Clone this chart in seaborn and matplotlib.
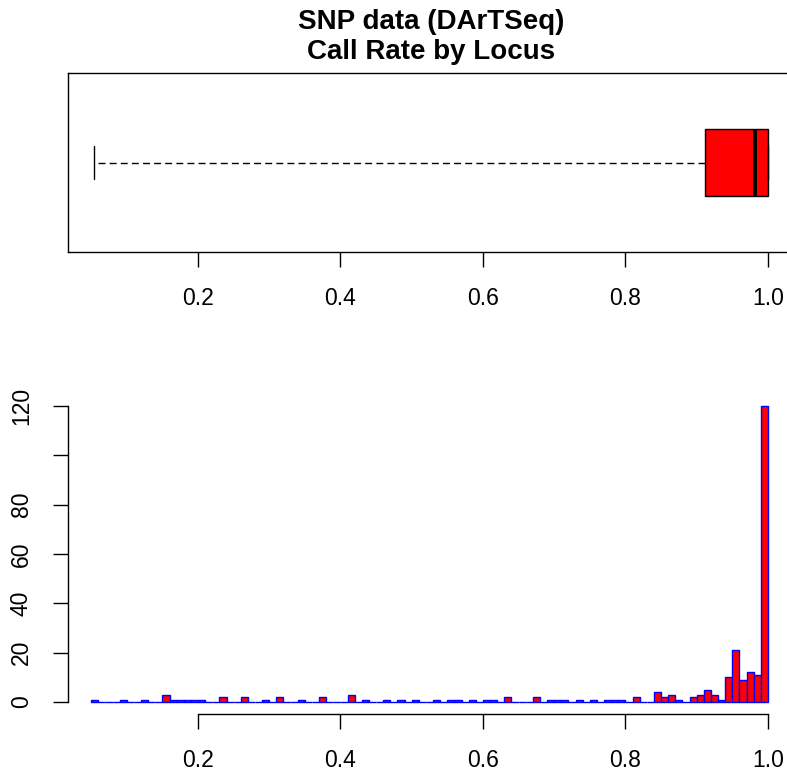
import matplotlib
matplotlib.use('Agg')
import numpy as np
import pandas as pd
import seaborn as sns
import matplotlib.pyplot as plt

# call rate histogram: counts per 0.01 bin, first bin starts at 0.05
bin_edges = np.round(np.linspace(0.05, 1.0, 96), 2)
bin_counts = [
    1, 0, 0, 0, 1, 0, 0, 1, 0, 0,      # 0.05 - 0.14
    3, 1, 1, 1, 1, 1, 0, 0, 2, 0,      # 0.15 - 0.24
    0, 2, 0, 0, 1, 0, 2, 0, 0, 1,      # 0.25 - 0.34
    0, 0, 2, 0, 0, 0, 3, 0, 1, 0,      # 0.35 - 0.44
    0, 1, 0, 1, 0, 1, 0, 0, 1, 0,      # 0.45 - 0.54
    1, 1, 0, 1, 0, 1, 1, 0, 2, 0,      # 0.55 - 0.64
    0, 0, 2, 0, 1, 1, 1, 0, 1, 0,      # 0.65 - 0.74
    1, 0, 1, 1, 1, 0, 2, 0, 0, 4,      # 0.75 - 0.84
    2, 3, 1, 0, 2, 3, 5, 3, 1, 10,     # 0.85 - 0.94
    21, 9, 12, 11, 120,                # 0.95 - 0.99
]

# boxplot summary: min, Q1, median, Q3, max
box_summary = [0.054, 0.912, 0.982, 1.0, 1.0]

x_ticks = [0.2, 0.4, 0.6, 0.8, 1.0]
x_tick_labels = ["0.2", "0.4", "0.6", "0.8", "1.0"]
y_ticks = [0, 20, 40, 60, 80, 100, 120]
y_tick_labels = ["0", "20", "40", "60", "80", "", "120"]

hist_df = pd.DataFrame({
    "callrate": (bin_edges[:-1] + bin_edges[1:]) / 2,
    "count": bin_counts,
})

sns.set_style("white")
plt.rcParams['font.family'] = ['Liberation Sans', 'DejaVu Sans']
plt.rcParams['text.color'] = 'black'

W, H = 787, 771
fig = plt.figure(figsize=(W / 100, H / 100), dpi=100)


def px_axes(left, top, right, bottom):
    # axes placed in pixel coordinates (origin top left)
    return fig.add_axes([left / W, 1 - bottom / H, (right - left) / W, (bottom - top) / H])


ax1 = px_axes(68, 73, 795, 252)
ax2 = px_axes(68, 394, 795, 714)

tick_kw = dict(length=10.8, width=1, color='black', labelsize=16.5,
               pad=14.4, labelcolor='black')

# top: boxplot
sns.boxplot(x=box_summary, orient='h', whis=(0, 100), width=0.41,
            color='red', saturation=1, linecolor='black', linewidth=1,
            medianprops=dict(linewidth=2.8, color='black'),
            whiskerprops=dict(linestyle=(0, (5, 3))),
            ax=ax1)
ax1.set_xlim(0.0175, 1.038)
ax1.set_ylim(-0.54, 0.54)
ax1.set_yticks([])
ax1.set_xticks(x_ticks)
ax1.set_xticklabels(x_tick_labels)
for s in ax1.spines.values():
    s.set_visible(True)
    s.set_color('black')
    s.set_linewidth(1)
ax1.tick_params(axis='x', bottom=True, **tick_kw)
ax1.set_title("SNP data (DArTSeq)\nCall Rate by Locus", fontsize=20,
              fontweight='bold', pad=10, linespacing=1.22, color='black')

# bottom: histogram
sns.histplot(data=hist_df, x="callrate", weights="count", bins=list(bin_edges),
             color='red', edgecolor='blue', linewidth=1, alpha=1, ax=ax2)
ax2.set_xlim(0.0175, 1.038)
ax2.set_ylim(-4.86, 124.86)
ax2.set_xlabel('')
ax2.set_ylabel('')
ax2.set_xticks(x_ticks)
ax2.set_xticklabels(x_tick_labels)
ax2.set_yticks(y_ticks)
ax2.set_yticklabels(y_tick_labels, rotation=90, va='center')
ax2.spines['top'].set_visible(False)
ax2.spines['right'].set_visible(False)
for side in ['left', 'bottom']:
    ax2.spines[side].set_color('black')
    ax2.spines[side].set_linewidth(1)
ax2.spines['left'].set_bounds(0, 120)
ax2.spines['bottom'].set_bounds(0.2, 1.0)
ax2.tick_params(axis='both', bottom=True, left=True, **tick_kw)

fig.savefig('out.png', dpi=100)
